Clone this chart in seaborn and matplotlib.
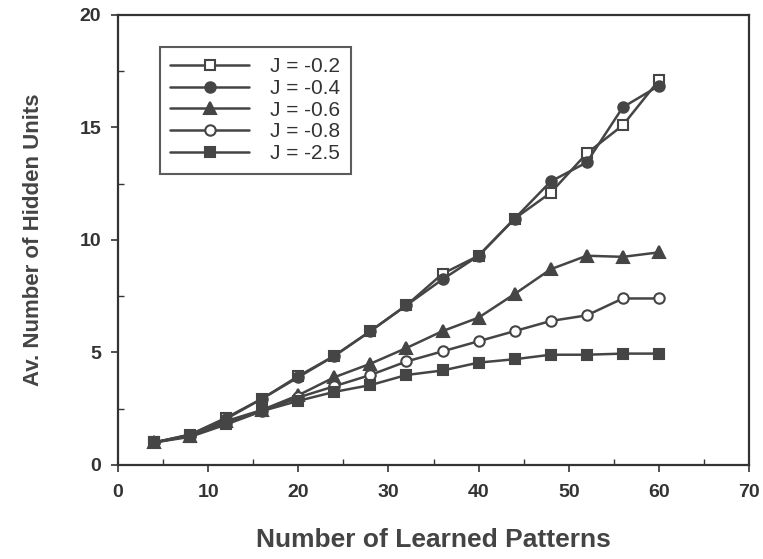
import pandas as pd
import matplotlib.pyplot as plt
import seaborn as sns
from matplotlib.ticker import MultipleLocator

# data
patterns = [4, 8, 12, 16, 20, 24, 28, 32, 36, 40, 44, 48, 52, 56, 60]
j_02 = [1.0, 1.35, 2.1, 2.95, 3.95, 4.85, 5.95, 7.1, 8.5, 9.3, 10.95, 12.1, 13.85, 15.1, 17.1]
j_04 = [1.0, 1.35, 2.05, 2.95, 3.9, 4.85, 5.95, 7.1, 8.25, 9.3, 10.95, 12.6, 13.45, 15.9, 16.85]
j_06 = [1.0, 1.3, 1.95, 2.45, 3.1, 3.9, 4.5, 5.2, 5.95, 6.55, 7.6, 8.7, 9.3, 9.25, 9.45]
j_08 = [1.0, 1.3, 1.85, 2.4, 3.0, 3.5, 4.0, 4.6, 5.05, 5.5, 5.95, 6.4, 6.65, 7.4, 7.4]
j_25 = [1.0, 1.25, 1.8, 2.4, 2.85, 3.25, 3.55, 4.0, 4.2, 4.55, 4.7, 4.9, 4.9, 4.95, 4.95]

labels = ["J = -0.2", "J = -0.4", "J = -0.6", "J = -0.8", "J = -2.5"]
series = [j_02, j_04, j_06, j_08, j_25]
markers = ["s", "o", "^", "o", "s"]
filled = [False, True, True, False, True]

sns.set_theme(style="ticks")
plt.rcParams['font.family'] = ['Liberation Sans', 'DejaVu Sans']

LINE = "#454545"
TEXT = "#333333"

fig = plt.figure(figsize=(7.63, 5.59), dpi=100)
ax = fig.add_axes([0.1547, 0.1682, 0.8270, 0.8050])

for lab, vals, mk, fl in zip(labels, series, markers, filled):
    df = pd.DataFrame({"x": patterns, "y": vals})
    sns.lineplot(data=df, x="x", y="y", ax=ax, label=lab, color=LINE,
                 linewidth=1.8, marker=mk, markersize=7.5 if mk != "^" else 8,
                 markerfacecolor=LINE if fl else "white",
                 markeredgecolor=LINE, markeredgewidth=1.5)

ax.set_xlim(0, 70)
ax.set_ylim(0, 20)
ax.xaxis.set_major_locator(MultipleLocator(10))
ax.xaxis.set_minor_locator(MultipleLocator(5))
ax.yaxis.set_major_locator(MultipleLocator(5))
ax.yaxis.set_minor_locator(MultipleLocator(2.5))
ax.tick_params(which="major", direction="out", length=5, width=1.2, colors=TEXT,
               labelsize=14)
ax.tick_params(axis="x", which="major", pad=9)
ax.tick_params(axis="y", which="major", pad=7)
ax.tick_params(which="minor", direction="in", length=4, width=1.0, colors=TEXT)
for lab in ax.get_xticklabels() + ax.get_yticklabels():
    lab.set_fontweight("bold")
for sp in ax.spines.values():
    sp.set_visible(True)
    sp.set_linewidth(1.6)
    sp.set_color(TEXT)

ax.set_xlabel("Number of Learned Patterns", fontsize=19, fontweight="bold",
              color="#444444", labelpad=19)
ax.set_ylabel("Av. Number of Hidden Units", fontsize=16, fontweight="bold",
              color="#444444", labelpad=26)

leg = ax.legend(loc="upper left", bbox_to_anchor=(0.0666, 0.929), borderaxespad=0,
                fontsize=15, handlelength=3.75, handletextpad=1.05, borderpad=0.5,
                labelspacing=0.13, fancybox=False, frameon=True)
leg.get_frame().set_edgecolor(TEXT)
leg.get_frame().set_linewidth(1.5)
for t in leg.get_texts():
    t.set_color(TEXT)

fig.savefig("out.png", dpi=100)
